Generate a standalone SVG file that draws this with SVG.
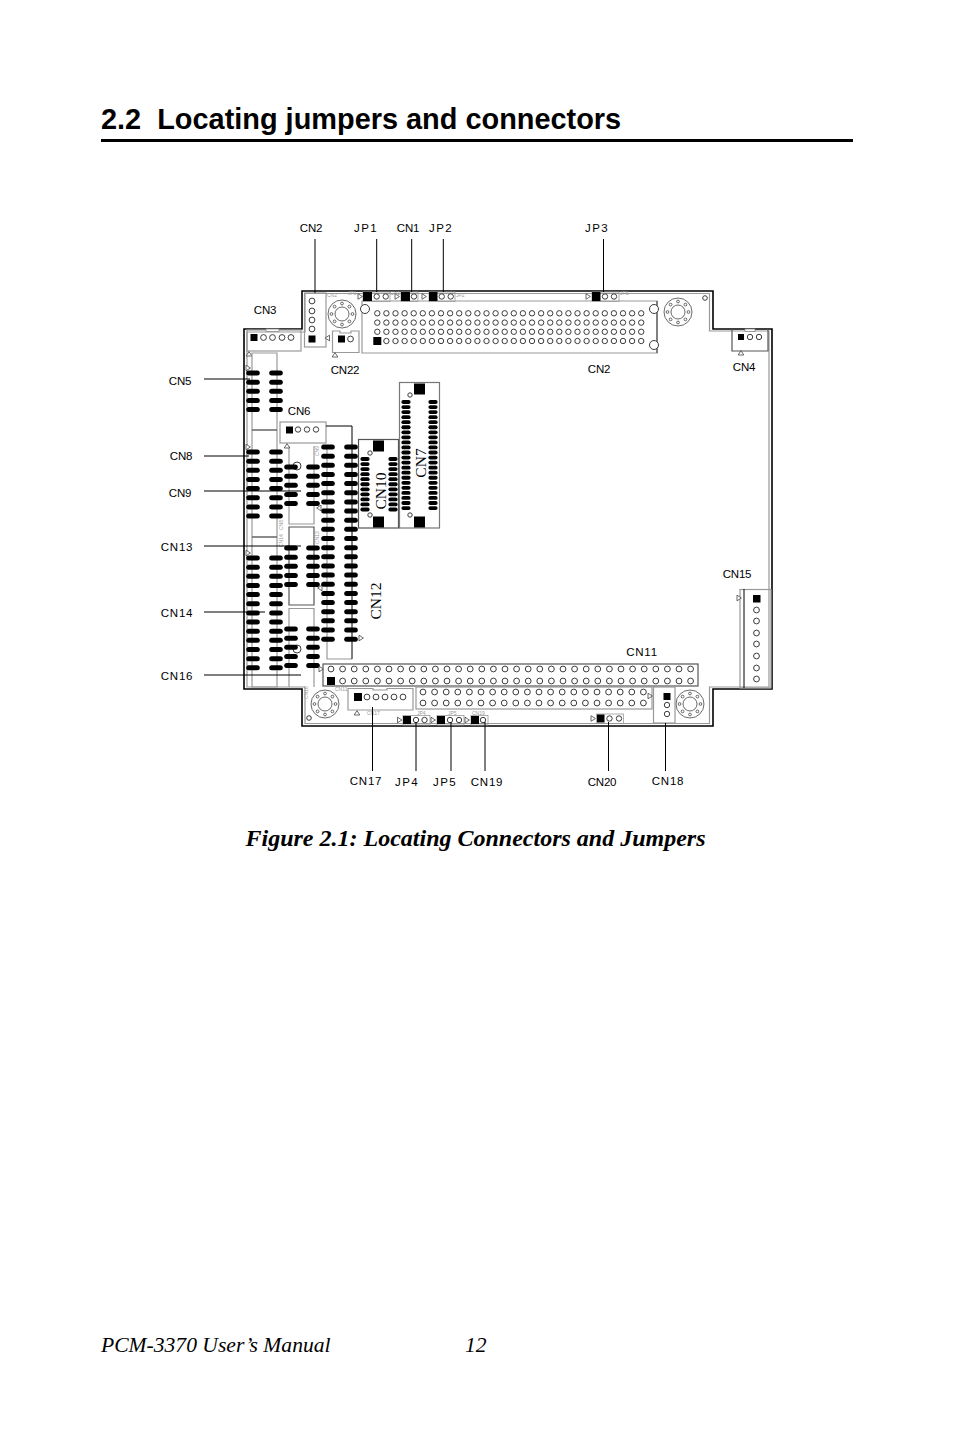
<svg xmlns="http://www.w3.org/2000/svg" width="954" height="1434" viewBox="0 0 954 1434">
<style>
text{font-family:"Liberation Sans",Arial,sans-serif;fill:#000}
.lb{font-size:11.5px;text-anchor:middle;letter-spacing:-.2px}
.sp{letter-spacing:1.4px}
.sp1{letter-spacing:.8px}
.ser{font-family:"Liberation Serif","Times New Roman",serif;text-anchor:middle}
.ft{font-family:"Liberation Serif","Times New Roman",serif;font-size:21.6px;font-style:italic}
.ti{font-size:5px;fill:#999}
.g{fill:none;stroke:#999;stroke-width:1.2}
.gt{fill:none;stroke:#999;stroke-width:.8}
.d{fill:none;stroke:#555;stroke-width:1.2}
.k{fill:none;stroke:#000;stroke-width:1}
.b{fill:none;stroke:#000;stroke-width:1.6}
.pc{fill:#fff;stroke:#333;stroke-width:.95}
.tr{fill:#fff;stroke:#444;stroke-width:.8}
.tab{fill:#fff;stroke:#888;stroke-width:.8}
</style>
<defs>
<circle id="c" r="2.9" class="pc"/>
<circle id="cs" r="2.7" class="pc"/>
<rect id="sq" x="-4" y="-4" width="8" height="8"/>
<rect id="sqb" x="-5.5" y="-5.5" width="11" height="11"/>
<rect id="pl" x="-6.8" y="-2.5" width="13.6" height="5" rx="2.5"/>
<rect id="ps" x="-4.6" y="-1.9" width="9.2" height="3.8" rx="1.9"/>
<path id="tR" d="M-2-2.8V2.8L2.4 0Z" class="tr"/>
<path id="tL" d="M2-2.8V2.8L-2.4 0Z" class="tr"/>
<path id="tU" d="M-2.8 2H2.8L0-2.4Z" class="tr"/>
<g id="a2"><use href="#cs"/><use href="#cs" x="9.1"/></g>
<g id="a4"><use href="#a2"/><use href="#a2" x="18.2"/></g>
<g id="a8"><use href="#a4"/><use href="#a4" x="36.4"/></g>
<g id="a30"><use href="#a8"/><use href="#a8" x="72.8"/><use href="#a8" x="145.6"/><use href="#a4" x="218.4"/><use href="#a2" x="254.8"/></g>
<g id="b2"><use href="#c"/><use href="#c" x="11.6"/></g>
<g id="b4"><use href="#b2"/><use href="#b2" x="23.2"/></g>
<g id="b8"><use href="#b4"/><use href="#b4" x="46.4"/></g>
<g id="b16"><use href="#b8"/><use href="#b8" x="92.8"/></g>
<g id="p2"><use href="#pl"/><use href="#pl" y="9.15"/></g>
<g id="p4"><use href="#p2"/><use href="#p2" y="18.3"/></g>
<g id="p5"><use href="#p4"/><use href="#pl" y="36.6"/></g>
<g id="p8"><use href="#p4"/><use href="#p4" y="36.6"/></g>
<g id="p13"><use href="#p8"/><use href="#p5" y="73.2"/></g>
<g id="p22"><use href="#p8"/><use href="#p8" y="73.2"/><use href="#p5" y="146.4"/><use href="#pl" y="192.15"/></g>
<g id="s2"><use href="#ps"/><use href="#ps" y="5.05"/></g>
<g id="s4"><use href="#s2"/><use href="#s2" y="10.1"/></g>
<g id="s8"><use href="#s4"/><use href="#s4" y="20.2"/></g>
<g id="s11"><use href="#s8"/><use href="#s2" y="40.4"/><use href="#ps" y="50.5"/></g>
<g id="s22"><use href="#s11"/><use href="#s11" y="55.55"/></g>
<g id="hole" fill="#fff" stroke="#444" stroke-width=".8">
<circle r="14"/><circle r="7"/>
<circle cx="0" cy="-10.5" r="1.4"/><circle cx="7.4" cy="-7.4" r="1.4"/><circle cx="10.5" cy="0" r="1.4"/><circle cx="7.4" cy="7.4" r="1.4"/><circle cx="0" cy="10.5" r="1.4"/><circle cx="-7.4" cy="7.4" r="1.4"/><circle cx="-10.5" cy="0" r="1.4"/><circle cx="-7.4" cy="-7.4" r="1.4"/>
</g>
</defs>

<rect width="954" height="1434" fill="#fff"/>

<g id="page-text">
<text x="101" y="129" font-size="28.9" font-weight="700" xml:space="preserve">2.2  Locating jumpers and connectors</text>
<rect x="101" y="139" width="752" height="3"/>
<text x="475.500" y="846" class="ser" font-size="24" font-weight="700" font-style="italic">Figure 2.1: Locating Connectors and Jumpers</text>
<text x="101" y="1352" class="ft">PCM-3370 User’s Manual</text>
<text x="465" y="1352" class="ft">12</text>
</g>

<g id="board">
<path class="b" d="M244 329H302V291H713V329H772V689H713V726H302V689H244Z"/>
<path class="g" d="M247 332H305V293.500H709.500V331H769V687H709.500V723.500H305V687H247Z"/>
<use href="#hole" x="342" y="314"/>
<use href="#hole" x="678" y="312"/>
<use href="#hole" x="325" y="704"/>
<use href="#hole" x="690" y="704"/>
<circle cx="705" cy="298" r="2.300" class="pc"/>
<circle cx="309" cy="718" r="2.300" class="pc"/>
</g>

<g id="conn-top-big">
<path class="g" d="M362 353V301H657V353Z"/>
<path class="d" d="M657 301V353"/>
<circle cx="365" cy="309" r="4.500" class="pc"/>
<circle cx="654" cy="309" r="4.500" class="pc"/>
<circle cx="654" cy="345" r="4.500" class="pc"/>
<use href="#a30" x="377.300" y="313.300"/>
<use href="#a30" x="377.300" y="322.600"/>
<use href="#a30" x="377.300" y="331.800"/>
<use href="#a30" x="377.300" y="341"/>
<use href="#sq" x="377.300" y="341"/>
</g>

<g id="cn3">
<rect x="247" y="330" width="54" height="21" class="g"/>
<rect x="266" y="329" width="13" height="2.500" class="tab"/>
<rect x="250.500" y="334" width="7" height="7"/>
<use href="#c" x="263.500" y="337.500"/><use href="#c" x="272.500" y="337.500"/><use href="#c" x="282" y="337.500"/><use href="#c" x="291" y="337.500"/>
<use href="#tU" x="249" y="354"/>
</g>

<g id="cn2-side">
<rect x="304.500" y="293" width="21.500" height="54" class="g"/>
<use href="#c" x="312" y="301"/><use href="#c" x="312" y="311"/><use href="#c" x="312" y="320"/><use href="#c" x="312" y="329"/>
<rect x="308.500" y="335.500" width="7" height="7"/>
<use href="#tL" x="327.500" y="338"/>
<text x="327" y="297" class="ti">CN2</text>
</g>

<g id="cn22">
<path class="g" d="M332.500 331H340V333H351V331H359V352.500H332.500Z"/>
<rect x="338" y="335.500" width="7" height="7"/>
<use href="#c" x="350.500" y="339"/>
<use href="#tU" x="335" y="355"/>
</g>

<g id="jp1">
<rect x="363" y="292" width="27" height="9.500" class="gt"/>
<rect x="363" y="292" width="9" height="9"/>
<use href="#cs" x="376.700" y="296.500"/><use href="#cs" x="385.700" y="296.500"/>
<use href="#tR" x="360" y="296.500"/>
<text x="348" y="295" class="ti">JP1</text>
</g>
<g id="cn1">
<rect x="401" y="292" width="17" height="9.500" class="gt"/>
<rect x="401" y="292" width="9" height="9"/>
<use href="#cs" x="414" y="296.500"/>
<use href="#tR" x="397" y="296.500"/>
<text x="390" y="295" class="ti">CN1</text>
</g>
<g id="jp2">
<rect x="429" y="292" width="26" height="9.500" class="gt"/>
<rect x="429" y="292" width="8.500" height="9"/>
<use href="#cs" x="441.700" y="296.500"/><use href="#cs" x="450.700" y="296.500"/>
<use href="#tR" x="424" y="296.500"/>
<text x="456" y="297" class="ti">JP2</text>
</g>
<g id="jp3">
<rect x="592" y="292" width="27" height="9.500" class="gt"/>
<rect x="592" y="292" width="8.500" height="9"/>
<use href="#cs" x="605" y="296.500"/><use href="#cs" x="614" y="296.500"/>
<use href="#tR" x="588" y="296.500"/>
<text x="620" y="295" class="ti">JP3</text>
</g>

<g id="cn4">
<path class="d" d="M732 329V351H768V329"/>
<rect x="745" y="329" width="10" height="2.500" class="tab"/>
<rect x="738" y="334" width="6" height="6"/>
<use href="#cs" x="750" y="337"/><use href="#cs" x="759" y="337"/>
<use href="#tU" x="741" y="353"/>
</g>

<g id="cn5-cn14-frame">
<path class="g" d="M252 353H277V687H252Z"/>
<path d="M252 430H277M252 537H277" stroke="#666" stroke-width="1.500"/>
<use href="#tR" x="248" y="368"/><use href="#tR" x="248" y="447"/><use href="#tR" x="248" y="553"/>
</g>
<g id="cn5"><use href="#p5" x="253" y="373"/><use href="#p5" x="276" y="373"/></g>
<g id="cn8"><use href="#p8" x="253" y="452"/><use href="#p8" x="276" y="452"/>
<text transform="translate(283 530) rotate(-90)" class="ti">CN8</text></g>
<g id="cn14"><use href="#p13" x="253" y="558"/><use href="#p13" x="276" y="558"/>
<text transform="translate(283 547) rotate(-90)" class="ti">CN14</text></g>

<g id="cn9">
<path class="g" d="M289 446V524H314V446"/>
<circle cx="297" cy="466" r="4" class="pc"/>
<use href="#p5" x="291" y="467"/><use href="#p5" x="313" y="467"/>
<use href="#tL" x="319" y="508"/>
<text transform="translate(319 456) rotate(-90)" class="ti">CN9</text>
</g>
<g id="cn13">
<path class="d" d="M289 605V527H314V605Z"/>
<use href="#p5" x="291" y="548"/><use href="#p5" x="313" y="548"/>
<use href="#tL" x="320" y="588"/>
<text transform="translate(319 544) rotate(-90)" class="ti">CN13</text>
</g>
<g id="cn16">
<path class="g" d="M289 687V608.500H314V687"/>
<circle cx="297" cy="649" r="4" class="pc"/>
<use href="#p5" x="291" y="629"/><use href="#p5" x="313" y="629"/>
<text transform="translate(308 699) rotate(-90)" class="ti">CN16</text>
</g>

<g id="cn6">
<rect x="280" y="422" width="46" height="21" class="g"/>
<rect x="286" y="426.500" width="7" height="7"/>
<use href="#cs" x="298" y="429.500"/><use href="#cs" x="307" y="429.500"/><use href="#cs" x="316" y="429.500"/>
<use href="#tU" x="287" y="446"/>
</g>

<g id="cn12">
<path class="g" d="M327 446V659H352"/>
<path class="k" d="M326 426H352V659"/>
<use href="#p22" x="328" y="447"/><use href="#p22" x="351" y="447"/>
<use href="#tR" x="361" y="638"/>
<text transform="translate(381 601) rotate(-90)" class="ser" font-size="15.500">CN12</text>
</g>

<g id="cn10">
<rect x="358.500" y="439.500" width="40" height="88.500" class="d"/>
<use href="#sqb" x="378.500" y="446"/><use href="#sqb" x="378.500" y="522"/>
<circle cx="370" cy="453" r="2.200" class="pc"/><circle cx="370" cy="515" r="2.200" class="pc"/>
<use href="#s11" x="365" y="459"/><use href="#s11" x="393" y="459"/>
<text transform="translate(385.500 491) rotate(-90)" class="ser" font-size="15.500">CN10</text>
</g>

<g id="cn7">
<rect x="399.500" y="382.500" width="40" height="145.500" fill="none" stroke="#777" stroke-width="1.200"/>
<use href="#sqb" x="419.500" y="389"/><use href="#sqb" x="419.500" y="522"/>
<circle cx="410" cy="395" r="2.200" class="pc"/><circle cx="410" cy="515" r="2.200" class="pc"/>
<use href="#s22" x="406" y="402"/><use href="#s22" x="433" y="402"/>
<text transform="translate(426 463) rotate(-90)" class="ser" font-size="15.500">CN7</text>
</g>

<g id="cn15">
<rect x="740" y="589.500" width="31" height="98.500" class="g"/>
<path class="k" d="M744 589V688"/>
<rect x="753" y="595" width="7.500" height="7.500"/>
<use href="#c" x="756.500" y="610"/><use href="#c" x="756.500" y="621"/><use href="#c" x="756.500" y="633"/><use href="#c" x="756.500" y="644"/><use href="#c" x="756.500" y="656"/><use href="#c" x="756.500" y="668"/><use href="#c" x="756.500" y="679"/>
<use href="#tR" x="739" y="598"/>
</g>

<g id="cn11">
<rect x="323" y="664" width="375" height="22" class="d"/>
<use href="#b16" x="331" y="669"/><use href="#b16" x="516.600" y="669"/>
<use href="#b16" x="331" y="681"/><use href="#b16" x="516.600" y="681"/>
<rect x="327" y="677" width="8" height="8"/>
<use href="#tR" x="321" y="669"/>
<text x="335" y="691" class="ti">CN11</text>
</g>

<g id="conn-bottom-big">
<rect x="416" y="687" width="236" height="22" class="g"/>
<use href="#b16" x="423" y="692"/><use href="#b4" x="608.600" y="692"/>
<use href="#b16" x="423" y="703"/><use href="#b4" x="608.600" y="703"/>
<use href="#tR" x="650" y="696"/>
</g>

<g id="cn18">
<rect x="653.500" y="687" width="21.500" height="36" class="g"/>
<rect x="663.500" y="693" width="7" height="7"/>
<use href="#cs" x="667" y="705"/><use href="#cs" x="667" y="714"/>
</g>

<g id="cn17">
<path class="g" d="M348 688.500H373V690H387V688.500H413V710H348Z"/>
<rect x="354" y="693" width="8" height="8"/>
<use href="#c" x="367" y="697"/><use href="#c" x="376" y="697"/><use href="#c" x="385" y="697"/><use href="#c" x="394" y="697"/><use href="#c" x="403" y="697"/>
<use href="#tU" x="357" y="713"/>
<text x="367" y="715" class="ti">CN17</text>
</g>

<g id="jp4">
<rect x="403" y="715.500" width="27" height="9.500" class="gt"/>
<rect x="403" y="716" width="8" height="8"/>
<use href="#cs" x="416" y="720"/><use href="#cs" x="424.500" y="720"/>
<use href="#tR" x="399.500" y="720"/><use href="#tR" x="433" y="720"/>
<text x="417" y="715" class="ti">JP4</text>
</g>
<g id="jp5">
<rect x="437" y="715.500" width="27" height="9.500" class="gt"/>
<rect x="437" y="716" width="8" height="8"/>
<use href="#cs" x="450" y="720"/><use href="#cs" x="459" y="720"/>
<use href="#tR" x="467" y="720"/>
<text x="448" y="715" class="ti">JP5</text>
</g>
<g id="cn19">
<rect x="471" y="715.500" width="17" height="9.500" class="gt"/>
<rect x="471" y="716" width="8" height="8"/>
<use href="#cs" x="483" y="720"/>
<text x="472" y="715" class="ti">CN19</text>
</g>
<g id="cn20">
<rect x="596.500" y="714" width="27" height="9.500" class="gt"/>
<rect x="597" y="714.500" width="7.500" height="8"/>
<use href="#cs" x="609.500" y="718.500"/><use href="#cs" x="619" y="718.500"/>
<use href="#tR" x="593" y="718.500"/>
</g>

<g id="connectors" stroke="#000" stroke-width="1" fill="none">
<path d="M315 239V293"/><path d="M376.700 239V292"/><path d="M411.700 239V292"/><path d="M443.300 239V292"/><path d="M603.500 239V292"/>
<path d="M204 379H250"/><path d="M204 456H249"/><path d="M204 491H301"/><path d="M204 546H301"/><path d="M204 612H265"/><path d="M204 675H301"/>
<path d="M372.500 707V771"/><path d="M416 722V771"/><path d="M451 722V771"/><path d="M485 722V771"/><path d="M608.500 722V771"/><path d="M665.500 723V771"/>
</g>

<g id="labels">
<text x="311" y="232" class="lb">CN2</text>
<text x="366" y="232" class="lb sp">JP1</text>
<text x="408" y="232" class="lb">CN1</text>
<text x="441" y="232" class="lb sp">JP2</text>
<text x="597" y="232" class="lb sp">JP3</text>
<text x="265" y="314" class="lb">CN3</text>
<text x="180" y="385" class="lb">CN5</text>
<text x="299" y="415" class="lb">CN6</text>
<text x="345" y="374" class="lb">CN22</text>
<text x="599" y="373" class="lb">CN2</text>
<text x="744" y="371" class="lb">CN4</text>
<text x="181" y="460" class="lb">CN8</text>
<text x="180" y="497" class="lb">CN9</text>
<text x="177" y="551" class="lb sp1">CN13</text>
<text x="177" y="617" class="lb sp1">CN14</text>
<text x="177" y="680" class="lb sp1">CN16</text>
<text x="737" y="578" class="lb">CN15</text>
<text x="642" y="656" class="lb sp1">CN11</text>
<text x="366" y="785" class="lb sp1">CN17</text>
<text x="407" y="786" class="lb sp">JP4</text>
<text x="445" y="786" class="lb sp">JP5</text>
<text x="487" y="786" class="lb sp1">CN19</text>
<text x="602" y="786" class="lb">CN20</text>
<text x="668" y="785" class="lb sp1">CN18</text>
</g>
</svg>
